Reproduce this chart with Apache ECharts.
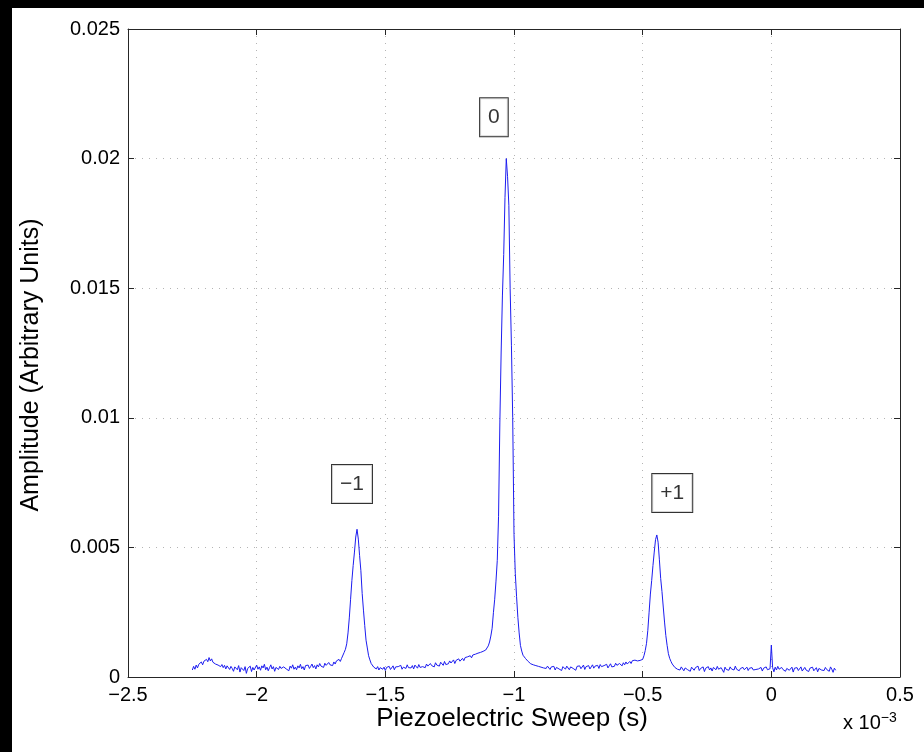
<!DOCTYPE html>
<html>
<head>
<meta charset="utf-8">
<title>Piezoelectric sweep spectrum</title>
<script src="https://cdn.jsdelivr.net/npm/echarts@6/dist/echarts.min.js"></script>
<style>
  html, body { margin: 0; padding: 0; background: #000; width: 924px; height: 752px; overflow: hidden; }
  #chart { position: absolute; left: 12px; top: 8px; width: 912px; height: 744px; background: #fff; }
</style>
</head>
<body>
<div id="chart"></div>
<script>
// Sweep sampling grid (units of 1e-3 s)
const SWEEP_START = -2.25;
const SWEEP_STEP = 0.005;

// Measured amplitude, one value per sweep sample (-2.250 ... 0.250)
const amplitude = [
  0.00027,0.00041,0.00030,0.00046,0.00035,0.00049,0.00044,0.00058,0.00047,0.00061,
  0.00055,0.00068,0.00059,0.00075,0.00062,0.00070,0.00057,0.00063,0.00050,0.00054,
  0.00046,0.00052,0.00040,0.00048,0.00036,0.00045,0.00031,0.00043,0.00038,0.00029,
  0.00041,0.00033,0.00022,0.00039,0.00035,0.00028,0.00044,0.00019,0.00036,0.00031,
  0.00025,0.00040,0.00014,0.00033,0.00029,0.00042,0.00021,0.00037,0.00027,0.00034,
  0.00046,0.00030,0.00039,0.00026,0.00043,0.00035,0.00049,0.00028,0.00038,0.00024,
  0.00036,0.00047,0.00031,0.00040,0.00022,0.00037,0.00044,0.00029,0.00041,0.00033,
  0.00026,0.00039,0.00045,0.00031,0.00036,0.00024,0.00042,0.00034,0.00047,0.00030,
  0.00038,0.00028,0.00043,0.00035,0.00049,0.00032,0.00040,0.00027,0.00044,0.00037,
  0.00046,0.00033,0.00041,0.00050,0.00036,0.00044,0.00031,0.00047,0.00039,0.00052,
  0.00042,0.00048,0.00037,0.00053,0.00045,0.00040,0.00056,0.00047,0.00051,0.00044,
  0.00058,0.00050,0.00062,0.00055,0.00068,0.00060,0.00072,0.00078,0.00095,0.00107,
  0.00128,0.00170,0.00228,0.00300,0.00372,0.00430,0.00482,0.00540,0.00570,0.00532,
  0.00468,0.00410,0.00322,0.00258,0.00198,0.00142,0.00112,0.00082,0.00066,0.00052,
  0.00047,0.00038,0.00044,0.00031,0.00040,0.00027,0.00036,0.00042,0.00030,0.00038,
  0.00025,0.00037,0.00033,0.00041,0.00029,0.00035,0.00043,0.00028,0.00039,0.00032,
  0.00040,0.00034,0.00045,0.00030,0.00038,0.00043,0.00033,0.00047,0.00036,0.00041,
  0.00035,0.00044,0.00031,0.00046,0.00039,0.00034,0.00048,0.00037,0.00043,0.00040,
  0.00047,0.00036,0.00050,0.00042,0.00038,0.00052,0.00044,0.00049,0.00039,0.00055,
  0.00046,0.00053,0.00042,0.00057,0.00050,0.00045,0.00060,0.00048,0.00055,0.00051,
  0.00062,0.00054,0.00058,0.00066,0.00052,0.00064,0.00059,0.00070,0.00061,0.00067,
  0.00072,0.00063,0.00075,0.00069,0.00078,0.00071,0.00082,0.00074,0.00085,0.00079,
  0.00088,0.00081,0.00092,0.00086,0.00095,0.00090,0.00099,0.00094,0.00104,0.00110,
  0.00120,0.00135,0.00158,0.00188,0.00248,0.00300,0.00370,0.00450,0.00620,0.00980,
  0.01250,0.01470,0.01630,0.01850,0.02000,0.01930,0.01820,0.01500,0.01280,0.01000,
  0.00550,0.00400,0.00310,0.00230,0.00170,0.00122,0.00100,0.00084,0.00078,0.00071,
  0.00066,0.00060,0.00057,0.00051,0.00055,0.00047,0.00050,0.00044,0.00048,0.00041,
  0.00045,0.00038,0.00043,0.00035,0.00040,0.00033,0.00042,0.00036,0.00029,0.00039,
  0.00034,0.00041,0.00027,0.00037,0.00044,0.00031,0.00038,0.00025,0.00040,0.00035,
  0.00030,0.00042,0.00036,0.00028,0.00039,0.00045,0.00033,0.00037,0.00026,0.00041,
  0.00035,0.00043,0.00032,0.00038,0.00046,0.00029,0.00040,0.00036,0.00044,0.00031,
  0.00039,0.00047,0.00034,0.00042,0.00037,0.00045,0.00033,0.00048,0.00040,0.00036,
  0.00044,0.00038,0.00049,0.00035,0.00043,0.00051,0.00039,0.00046,0.00041,0.00053,
  0.00045,0.00040,0.00052,0.00048,0.00043,0.00055,0.00047,0.00058,0.00050,0.00054,
  0.00060,0.00052,0.00063,0.00056,0.00065,0.00058,0.00062,0.00068,0.00064,0.00070,
  0.00068,0.00082,0.00102,0.00130,0.00180,0.00250,0.00320,0.00372,0.00430,0.00482,
  0.00530,0.00548,0.00520,0.00452,0.00380,0.00330,0.00270,0.00212,0.00160,0.00122,
  0.00090,0.00072,0.00060,0.00050,0.00044,0.00037,0.00041,0.00030,0.00036,0.00027,
  0.00039,0.00032,0.00024,0.00035,0.00041,0.00028,0.00034,0.00022,0.00038,0.00031,
  0.00026,0.00036,0.00030,0.00042,0.00025,0.00033,0.00029,0.00039,0.00021,0.00034,
  0.00031,0.00040,0.00027,0.00035,0.00023,0.00037,0.00032,0.00028,0.00041,0.00030,
  0.00024,0.00036,0.00033,0.00018,0.00038,0.00029,0.00034,0.00026,0.00039,0.00031,
  0.00035,0.00027,0.00042,0.00030,0.00036,0.00024,0.00033,0.00029,0.00037,0.00028,
  0.00032,0.00038,0.00025,0.00034,0.00030,0.00036,0.00027,0.00033,0.00029,0.00035,
  0.00031,0.00026,0.00037,0.00023,0.00034,0.00030,0.00039,0.00028,0.00035,0.00032,
  0.00123,0.00036,0.00020,0.00038,0.00027,0.00041,0.00030,0.00024,0.00037,0.00029,
  0.00035,0.00022,0.00033,0.00040,0.00026,0.00031,0.00038,0.00019,0.00034,0.00028,
  0.00036,0.00025,0.00032,0.00039,0.00023,0.00030,0.00037,0.00027,0.00033,0.00021,
  0.00034,0.00029,0.00038,0.00024,0.00031,0.00036,0.00020,0.00033,0.00040,0.00027,
  0.00032,0.00025,0.00037,0.00029,0.00035,0.00022,0.00039,0.00030,0.00018,0.00034,
  0.00026
];

// Diffraction-order annotations: text, sweep position, amplitude position
const orderLabels = ['\u22121', '0', '+1'];
const orderSweep = [-1.6295, -1.078, -0.385];
const orderAmp = [0.00745, 0.0216, 0.0071];

// Tick values
const sweepTicks = [-2.5, -2, -1.5, -1, -0.5, 0, 0.5];
const ampTicks = [0, 0.005, 0.01, 0.015, 0.02, 0.025];

// Axis titles and the exponent note
const xTitle = 'Piezoelectric Sweep (s)';
const yTitle = 'Amplitude (Arbitrary Units)';

const FONT = '"Liberation Sans", Arial, Helvetica, sans-serif';

const sweep = amplitude.map((_, i) => +(SWEEP_START + i * SWEEP_STEP).toFixed(3));
const traceData = sweep.map((x, i) => [x, amplitude[i]]);
const labelData = orderLabels.map((t, i) => [orderSweep[i], orderAmp[i], t]);

const chart = echarts.init(document.getElementById('chart'), null, { renderer: 'canvas' });

const minus = s => String(s).replace('-', '\u2212');
const axisLineStyle = { color: '#262626', width: 1 };
const gridDots = { show: true, lineStyle: { color: '#b4b4b4', width: 1, type: [1, 6] } };

chart.setOption({
  animation: false,
  backgroundColor: '#fff',
  grid: { left: 116, top: 21, right: 24, bottom: 75, containLabel: false },
  xAxis: [
    {
      type: 'value', min: sweepTicks[0], max: sweepTicks[sweepTicks.length - 1], interval: 0.5,
      position: 'bottom',
      axisLine: { show: true, onZero: false, lineStyle: axisLineStyle },
      axisTick: { show: true, inside: true, length: 6, lineStyle: axisLineStyle },
      axisLabel: { color: '#000', fontSize: 20, fontFamily: FONT, margin: 8, formatter: v => minus(v) },
      splitLine: gridDots
    },
    {
      type: 'value', min: sweepTicks[0], max: sweepTicks[sweepTicks.length - 1], interval: 0.5,
      position: 'top',
      axisLine: { show: true, onZero: false, lineStyle: axisLineStyle },
      axisTick: { show: true, inside: true, length: 6, lineStyle: axisLineStyle },
      axisLabel: { show: false }, splitLine: { show: false }
    }
  ],
  yAxis: [
    {
      type: 'value', min: ampTicks[0], max: ampTicks[ampTicks.length - 1], interval: 0.005,
      position: 'left',
      axisLine: { show: true, onZero: false, lineStyle: axisLineStyle },
      axisTick: { show: true, inside: true, length: 6, lineStyle: axisLineStyle },
      axisLabel: { color: '#000', fontSize: 20, fontFamily: FONT, margin: 8 },
      splitLine: gridDots
    },
    {
      type: 'value', min: ampTicks[0], max: ampTicks[ampTicks.length - 1], interval: 0.005,
      position: 'right',
      axisLine: { show: true, onZero: false, lineStyle: axisLineStyle },
      axisTick: { show: true, inside: true, length: 6, lineStyle: axisLineStyle },
      axisLabel: { show: false }, splitLine: { show: false }
    }
  ],
  series: [
    {
      name: 'Amplitude', type: 'line', data: traceData,
      xAxisIndex: 0, yAxisIndex: 0,
      showSymbol: false, symbol: 'none', sampling: null, silent: true,
      lineStyle: { color: '#1c1cf0', width: 1 }
    },
    {
      name: 'Orders', type: 'scatter', data: labelData,
      xAxisIndex: 0, yAxisIndex: 0, silent: true,
      symbol: 'rect', symbolSize: 1,
      itemStyle: { color: 'rgba(0,0,0,0)' },
      label: {
        show: true, position: 'inside',
        formatter: p => p.value[2],
        color: '#000', fontSize: 21, fontFamily: FONT, lineHeight: 22,
        backgroundColor: '#fff', borderColor: '#000', borderWidth: 1,
        padding: [8, 8, 8, 8]
      }
    }
  ],
  graphic: [
    {
      type: 'text', x: 500, y: 711, silent: true,
      style: { text: xTitle, fill: '#000', font: '26px ' + FONT, align: 'center', verticalAlign: 'middle' }
    },
    {
      type: 'text', x: 19, y: 357, rotation: Math.PI / 2, silent: true,
      style: { text: yTitle, fill: '#000', font: '25px ' + FONT, align: 'center', verticalAlign: 'middle' }
    },
    {
      type: 'text', left: 831, top: 703, silent: true,
      style: {
        text: 'x 10{sup|\u22123}',
        fill: '#000', font: '20px ' + FONT,
        rich: {
          sup: { fontSize: 14, fontFamily: FONT, fill: '#000', verticalAlign: 'top', padding: [0, 0, 10, 0] }
        }
      }
    }
  ]
});
</script>
</body>
</html>
